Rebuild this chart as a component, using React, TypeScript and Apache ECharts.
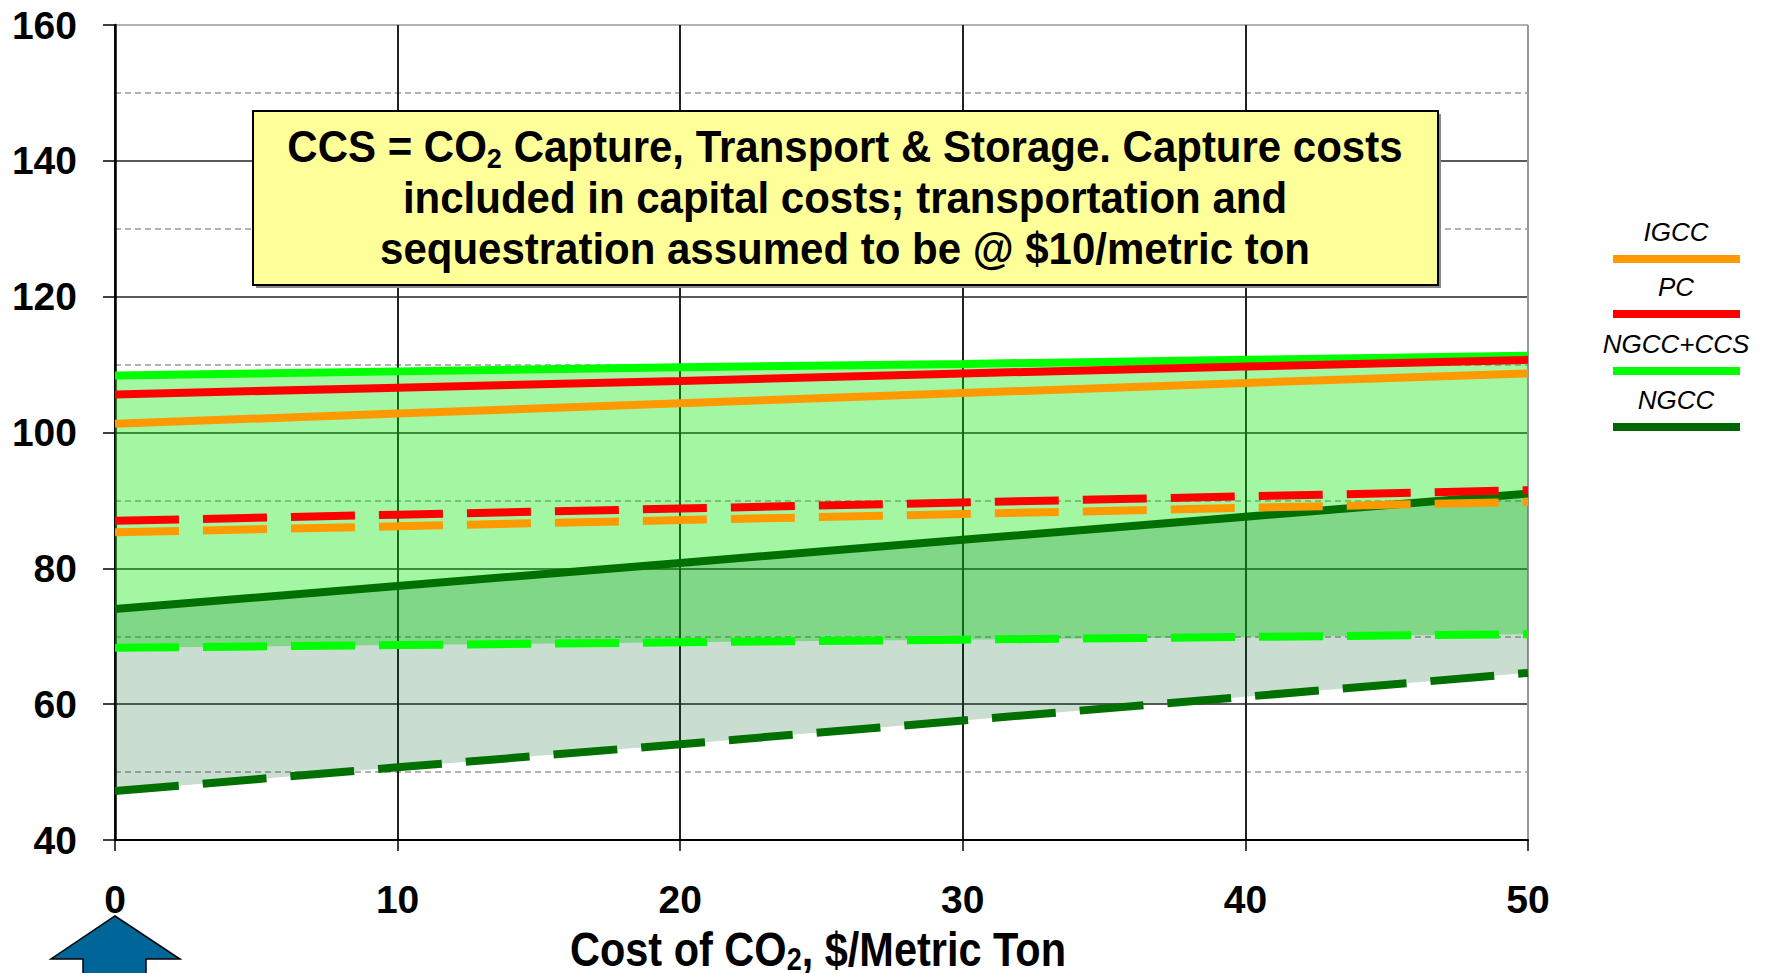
import { useEffect, useRef } from 'react';
import * as echarts from 'echarts';

// CO2 price, $/metric ton
const costs = [0, 10, 20, 30, 40, 50];

// Cost of electricity ranges (upper = solid line, lower = dashed line)
const igccHigh = [101.3, 102.8, 104.3, 105.8, 107.3, 108.7];
const igccLow = [85.3, 86.2, 87.1, 88.0, 88.9, 89.8];
const pcHigh = [105.6, 106.6, 107.6, 108.7, 109.7, 110.7];
const pcLow = [87.0, 87.9, 88.8, 89.7, 90.6, 91.5];
const ngccCcsHigh = [108.4, 109.0, 109.6, 110.1, 110.7, 111.3];
const ngccCcsLow = [68.3, 68.7, 69.1, 69.5, 69.9, 70.3];
const ngccHigh = [74.0, 77.4, 80.8, 84.2, 87.6, 91.0];
const ngccLow = [47.2, 50.7, 54.1, 57.6, 61.1, 64.6];

// Axis ranges: [min, max, interval]
const xRange = [0, 50, 10];
const yRange = [40, 160, 20];

const legendItems = [
  { name: 'IGCC', color: '#FF9900' },
  { name: 'PC', color: '#FF0000' },
  { name: 'NGCC+CCS', color: '#00FF00' },
  { name: 'NGCC', color: '#006600' },
];

// "|2|" marks a subscript
const noteLines = [
  'CCS = CO|2| Capture, Transport & Storage. Capture costs',
  'included in capital costs; transportation and',
  'sequestration assumed to be @ $10/metric ton',
];
const xTitle = 'Cost of CO|2|, $/Metric Ton';

const FONT = 'Liberation Sans, Arial, sans-serif';

function toRich(line: string) {
  const parts = line.split('|');
  return parts.map((p, i) => (i % 2 === 1 ? `{s|${p}}` : `{a|${p}}`)).join('');
}

function bandSeries(name: string, low: number[], high: number[], fill: string) {
  return {
    type: 'custom',
    name,
    silent: true,
    data: [[costs[0], low[0]]],
    renderItem: (_params: any, api: any) => {
      const top = costs.map((c, i) => api.coord([c, high[i]]));
      const bottom = costs.map((c, i) => api.coord([c, low[i]])).reverse();
      return {
        type: 'polygon',
        shape: { points: top.concat(bottom) },
        style: { fill },
      };
    },
  };
}

function lineSeries(name: string, values: number[], color: string, dashed: boolean) {
  return {
    type: 'line',
    name,
    silent: true,
    symbol: 'none',
    data: costs.map((c, i) => [c, values[i]]),
    lineStyle: { color, width: 8, type: dashed ? [64, 24] : 'solid', cap: 'butt' },
  };
}

export default function App() {
  const ref = useRef<HTMLDivElement>(null);

  useEffect(() => {
    if (!ref.current) return;
    const chart = echarts.init(ref.current, undefined, { renderer: 'svg' });

    const legendGraphics: any[] = [];
    const legendTop = 232;
    const legendStep = [0, 55, 112, 168];
    legendItems.forEach((item, i) => {
      const y = legendTop + legendStep[i];
      legendGraphics.push({
        type: 'text',
        x: 1676,
        y,
        style: {
          text: item.name,
          font: `italic 26px ${FONT}`,
          fill: '#000',
          align: 'center',
          verticalAlign: 'middle',
          textAlign: 'center',
          textVerticalAlign: 'middle',
        },
      });
      legendGraphics.push({
        type: 'rect',
        shape: { x: 1613, y: y + 23, width: 127, height: 8 },
        style: { fill: item.color },
      });
    });

    const richBase = (size: number, lh: number) => ({
      a: { fontSize: size, fontWeight: 'bold', fontFamily: FONT, lineHeight: lh, fill: '#000', color: '#000' },
      s: {
        fontSize: Math.round(size * 0.65),
        fontWeight: 'bold',
        fontFamily: FONT,
        lineHeight: Math.round(size * 0.65),
        verticalAlign: 'bottom',
        fill: '#000',
        color: '#000',
      },
    });

    chart.setOption({
      animation: false,
      backgroundColor: '#fff',
      textStyle: { fontFamily: FONT },
      grid: { left: 115, right: 241, top: 25, bottom: 133, containLabel: false, outerBoundsMode: 'none' },
      xAxis: {
        type: 'value',
        min: xRange[0],
        max: xRange[1],
        interval: xRange[2],
        axisLine: { show: true, lineStyle: { color: '#000', width: 2 } },
        axisTick: { show: true, length: 11, lineStyle: { color: '#000', width: 1.5 } },
        axisLabel: { fontSize: 39, fontWeight: 'bold', color: '#000', margin: 40, fontFamily: FONT },
        splitLine: {
          show: true,
          lineStyle: { color: ['#222', '#222', '#222', '#222', '#222', '#999'], width: 2 },
        },
      },
      yAxis: {
        type: 'value',
        min: yRange[0],
        max: yRange[1],
        interval: yRange[2],
        axisLine: { show: true, lineStyle: { color: '#000', width: 2.5 } },
        axisTick: { show: true, length: 12, lineStyle: { color: '#000', width: 1.5 } },
        axisLabel: { fontSize: 39, fontWeight: 'bold', color: '#000', margin: 38, fontFamily: FONT },
        splitLine: {
          show: true,
          lineStyle: { color: ['#222', '#222', '#222', '#222', '#222', '#222', '#999'], width: 1.5 },
        },
        minorTick: { show: false, splitNumber: 2 },
        minorSplitLine: { show: true, lineStyle: { color: '#9a9a9a', width: 1.5, type: [6, 4] } },
      },
      series: [
        bandSeries('NGCC+CCS range', ngccCcsLow, ngccCcsHigh, 'rgba(0, 232, 0, 0.36)'),
        bandSeries('NGCC range', ngccLow, ngccHigh, 'rgba(0, 100, 35, 0.21)'),
        lineSeries('NGCC low', ngccLow, '#007000', true),
        lineSeries('NGCC', ngccHigh, '#007000', false),
        lineSeries('NGCC+CCS low', ngccCcsLow, '#00FF00', true),
        lineSeries('NGCC+CCS', ngccCcsHigh, '#00FF00', false),
        lineSeries('IGCC low', igccLow, '#FF9900', true),
        lineSeries('IGCC', igccHigh, '#FF9900', false),
        lineSeries('PC low', pcLow, '#FF0000', true),
        lineSeries('PC', pcHigh, '#FF0000', false),
      ],
      graphic: [
        // note box with shadow
        { type: 'rect', z: 10, shape: { x: 256, y: 114, width: 1185, height: 174 }, style: { fill: '#8a8a8a' } },
        {
          type: 'rect',
          z: 11,
          shape: { x: 253, y: 111, width: 1185, height: 174 },
          style: { fill: '#FFFF99', stroke: '#000', lineWidth: 2 },
        },
        {
          type: 'group',
          z: 12,
          x: 845,
          y: 198,
          scaleY: 1.05,
          children: [
            {
              type: 'text',
              z: 12,
              style: {
                text: noteLines.map(toRich).join('\n'),
                rich: richBase(42, 48.5),
                align: 'center',
                verticalAlign: 'middle',
                textAlign: 'center',
                textVerticalAlign: 'middle',
              },
            },
          ],
        },
        // axis title
        {
          type: 'group',
          z: 12,
          x: 818,
          y: 950,
          scaleY: 1.14,
          children: [
            {
              type: 'text',
              style: {
                text: toRich(xTitle),
                rich: richBase(41.5, 44),
                align: 'center',
                verticalAlign: 'middle',
                textAlign: 'center',
                textVerticalAlign: 'middle',
              },
            },
          ],
        },
        // arrow pointing at zero CO2 cost
        {
          type: 'polygon',
          z: 12,
          shape: {
            points: [
              [115, 916],
              [180, 959],
              [146, 959],
              [146, 985],
              [83, 985],
              [83, 959],
              [51, 959],
            ],
          },
          style: { fill: '#006699', stroke: '#000', lineWidth: 1.5 },
        },
        ...legendGraphics,
      ],
    });

    return () => chart.dispose();
  }, []);

  return (
    <div
      ref={ref}
      style={{ position: 'absolute', left: 0, top: 0, width: 1769, height: 973 }}
    />
  );
}
